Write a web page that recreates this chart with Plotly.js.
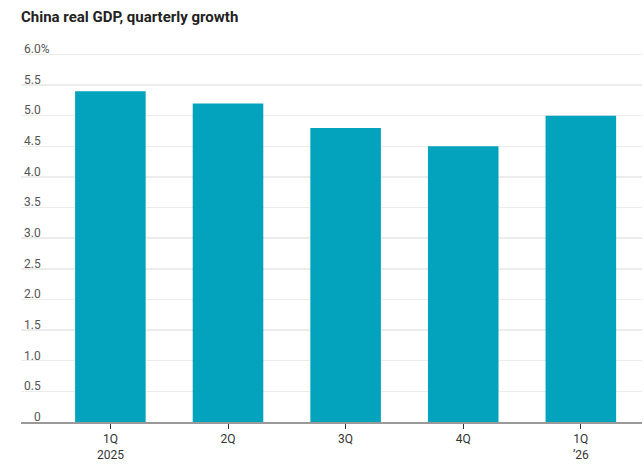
<!DOCTYPE html>
<html>
<head>
<meta charset="utf-8">
<script src="https://cdn.plot.ly/plotly-3.0.1.min.js"></script>
<style>
  html, body { margin: 0; padding: 0; background: #fff; }
  #chart { width: 644px; height: 474px; }
</style>
</head>
<body>
<div id="chart"></div>
<script>
// Quarterly year-over-year real GDP growth, %
const quarters = ["1Q 2025", "2Q 2025", "3Q 2025", "4Q 2025", "1Q 2026"];
const quarterLabels = ["1Q<br>2025", "2Q", "3Q", "4Q", "1Q<br>\u201926"];
const growth = [5.4, 5.2, 4.8, 4.5, 5.0];

// y-axis ticks; the top one carries the unit
const yTickVals = [0, 0.5, 1, 1.5, 2, 2.5, 3, 3.5, 4, 4.5, 5, 5.5, 6];
const yTickText = ["\u2007\u20080", "0.5", "1.0", "1.5", "2.0", "2.5", "3.0", "3.5", "4.0", "4.5", "5.0", "5.5", "6.0%"];

const FONT = "Roboto, 'Noto Sans', sans-serif";

const data = [{
  type: "bar",
  x: quarters,
  y: growth,
  width: 0.6,
  marker: { color: "#03a3bd", line: { width: 0 } },
  hoverinfo: "skip"
}];

const layout = {
  width: 644,
  height: 474,
  paper_bgcolor: "#ffffff",
  plot_bgcolor: "#ffffff",
  margin: { l: 21, r: 2, t: 36, b: 52, pad: 0 },
  showlegend: false,
  font: { family: FONT, color: "#555", size: 12 },
  title: {
    text: "<b>China real GDP, quarterly growth</b>",
    font: { family: FONT, size: 15, color: "#222" },
    xref: "paper", x: 0, xanchor: "left",
    yref: "container", y: 1 - 17 / 474, yanchor: "middle"
  },
  xaxis: {
    type: "category",
    categoryorder: "array",
    categoryarray: quarters,
    tickvals: quarters,
    ticktext: quarterLabels,
    range: [-0.76, 4.52],
    showgrid: false,
    zeroline: false,
    showline: true,
    linecolor: "#999",
    linewidth: 2,
    ticks: "outside",
    ticklen: 5,
    tickwidth: 1,
    tickcolor: "#333",
    tickfont: { family: FONT, size: 12, color: "#333" },
    fixedrange: true
  },
  yaxis: {
    range: [0, 6.3],
    tickvals: yTickVals,
    ticktext: yTickText,
    ticklabelposition: "inside top",
    ticklabelshift: 3,
    ticklabeloverflow: "allow",
    ticks: "",
    showline: false,
    zeroline: false,
    showgrid: true,
    gridcolor: "#ececec",
    gridwidth: 1.5,
    tickfont: { family: FONT, size: 12, color: "#555" },
    fixedrange: true
  },
  bargap: 0.4
};

Plotly.newPlot("chart", data, layout, { displayModeBar: false, staticPlot: true });
</script>
</body>
</html>
